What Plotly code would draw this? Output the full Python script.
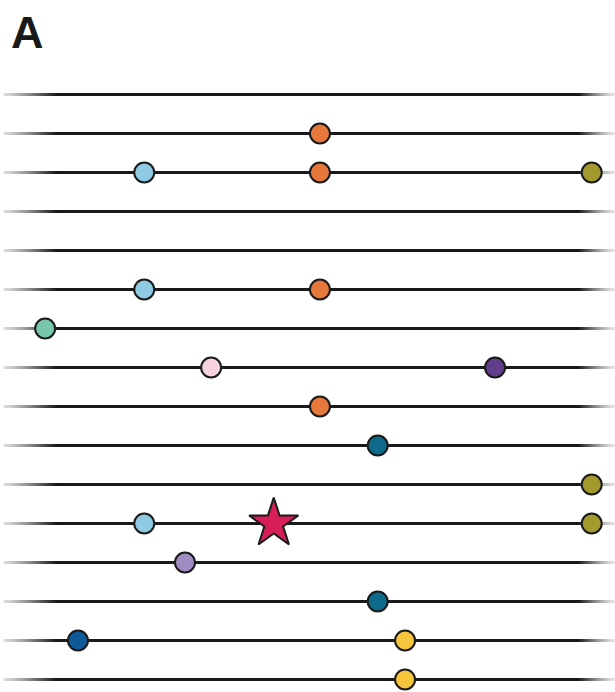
import numpy as np
import plotly.graph_objects as go

# Sixteen tracks, top to bottom; each position is on a 0-100 scale along the track
n_tracks = 16
track_ids = list(range(1, n_tracks + 1))

marker_track = [2, 3, 3, 3, 6, 6, 7, 8, 8, 9, 10, 11, 12, 12, 13, 14, 15, 15, 16]
marker_pos = [51.8, 22.9, 51.8, 96.5, 22.9, 51.8, 6.6, 33.9, 80.6, 51.8, 61.3,
              96.5, 22.9, 96.5, 29.6, 61.3, 12.0, 65.8, 65.8]
marker_color = ["#E5783A", "#8FCAE3", "#E5783A", "#A29A2C", "#8FCAE3", "#E5783A",
                "#79C6AE", "#F6D3DE", "#633D8D", "#E5783A", "#0D6A8A",
                "#A29A2C", "#8FCAE3", "#A29A2C", "#9E8CC2", "#0D6A8A",
                "#0E5A98", "#F5C53C", "#F5C53C"]

star_track = [12]
star_pos = [44.2]
star_color = ["#D61E57"]

LINE_DARK = np.array([26, 26, 26])
WHITE = np.array([255, 255, 255])
fade_left = (0.0, 8.5)
fade_right = (94.5, 100.0)
LINE_W = 3

fig = go.Figure()


def mix(a):
    a = float(np.clip(a, 0.0, 1.0))
    r, g, b = (WHITE + (LINE_DARK - WHITE) * a).round().astype(int)
    return f"rgb({r},{g},{b})"


def ramp(f):
    f = float(np.clip(f, 0.0, 1.0))
    return 0.15 + 0.85 * f ** 1.2


# solid middle part of every track, one trace with gaps between tracks
mx, my = [], []
for t in track_ids:
    mx += [fade_left[1], fade_right[0], None]
    my += [t, t, None]
fig.add_trace(go.Scatter(
    x=mx, y=my, mode="lines", line=dict(color=mix(1.0), width=LINE_W),
    hoverinfo="skip", showlegend=False))

# faded ends: short overlapping horizontal ticks blending from white to the line colour
lx = np.linspace(fade_left[0], fade_left[1], 60)
rx = np.linspace(fade_right[0], fade_right[1], 40)
fx, fy, fc = [], [], []
for t in track_ids:
    for x in lx:
        f = (x - fade_left[0]) / (fade_left[1] - fade_left[0])
        fx.append(x); fy.append(t); fc.append(mix(ramp(f)))
    for x in rx:
        f = (fade_right[1] - x) / (fade_right[1] - fade_right[0])
        fx.append(x); fy.append(t); fc.append(mix(ramp(f)))

fig.add_trace(go.Scatter(
    x=fx, y=fy, mode="markers",
    marker=dict(size=2.2, symbol="line-ew", line=dict(width=LINE_W, color=fc)),
    hoverinfo="skip", showlegend=False))

fig.add_trace(go.Scatter(
    x=marker_pos, y=marker_track, mode="markers",
    marker=dict(size=20, color=marker_color, symbol="circle",
                line=dict(color="#1a1a1a", width=2)),
    hoverinfo="skip", showlegend=False))

fig.add_trace(go.Scatter(
    x=star_pos, y=star_track, mode="markers",
    marker=dict(size=37, color=star_color, symbol="star",
                line=dict(color="#1a1a1a", width=2)),
    hoverinfo="skip", showlegend=False))

# pixel mapping: 0 -> x=5px, 100 -> x=613px on a 615px-wide plot
px_per_unit = 608 / 100
x_range = [-5 / px_per_unit, 100 + 2 / px_per_unit]
# 39px between tracks; track centres sit on pixel centres so 3px strokes stay crisp
px_per_track = 39
y_top = 1 - 94.5 / px_per_track
y_range = [y_top + 692 / px_per_track, y_top]

fig.update_layout(
    width=615, height=692,
    margin=dict(l=0, r=0, t=0, b=0),
    paper_bgcolor="white", plot_bgcolor="white",
    xaxis=dict(range=x_range, visible=False, fixedrange=True),
    yaxis=dict(range=y_range, visible=False, fixedrange=True),
    annotations=[dict(text="<b>A</b>", xref="paper", yref="paper",
                      x=9 / 615, y=1 - 5 / 692, xanchor="left", yanchor="top",
                      showarrow=False,
                      font=dict(family="Liberation Sans, Arial", size=45,
                                color="#1a1a1a"))],
)

fig.write_html("out.html")
